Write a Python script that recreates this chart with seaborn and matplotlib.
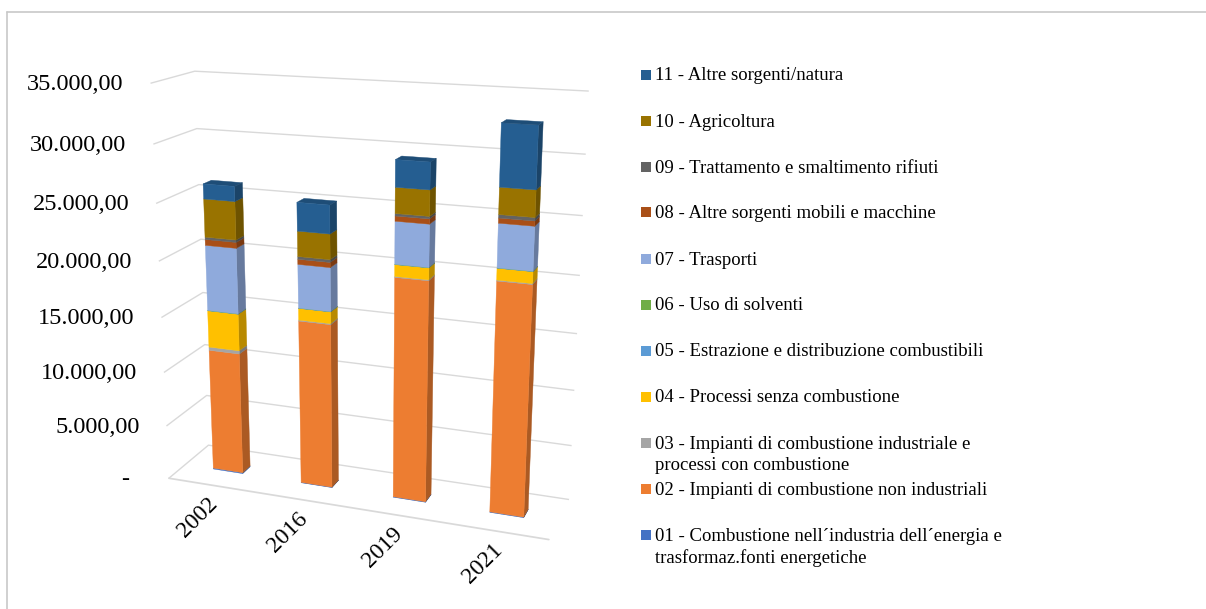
import numpy as np
import matplotlib
matplotlib.use("Agg")
import matplotlib.pyplot as plt
import matplotlib.colors as mcolors
import seaborn as sns
from matplotlib.ticker import NullFormatter
from matplotlib.patches import Rectangle
from mpl_toolkits.mplot3d import proj3d

# ---- data -------------------------------------------------------------
years = ["2002", "2016", "2019", "2021"]

sector_labels = [
    "01 - Combustione nell\u00b4industria dell\u00b4energia e\ntrasformaz.fonti energetiche",
    "02 - Impianti di combustione non industriali",
    "03 - Impianti di combustione industriale e\nprocessi con combustione",
    "04 - Processi senza combustione",
    "05 - Estrazione e distribuzione combustibili",
    "06 - Uso di solventi",
    "07 - Trasporti",
    "08 - Altre sorgenti mobili e macchine",
    "09 - Trattamento e smaltimento rifiuti",
    "10 - Agricoltura",
    "11 - Altre sorgenti/natura",
]

s01 = [90, 40, 50, 50]
s02 = [11250, 14950, 19650, 20200]
s03 = [300, 90, 80, 80]
s04 = [3340, 1040, 1010, 980]
s05 = [20, 15, 15, 15]
s06 = [10, 10, 10, 10]
s07 = [5850, 3840, 3610, 3650]
s08 = [520, 445, 435, 420]
s09 = [210, 240, 205, 280]
s10 = [3340, 2190, 2160, 2190]
s11 = [1300, 2450, 2250, 5050]

series = [s01, s02, s03, s04, s05, s06, s07, s08, s09, s10, s11]

sector_colors = sns.color_palette([
    "#4472C4", "#ED7D31", "#A5A5A5", "#FFC000", "#5B9BD5", "#70AD47",
    "#8FAADC", "#A94F17", "#636363", "#997300", "#255E91",
])

y_ticks = np.arange(0, 35001, 5000)

# ---- style ------------------------------------------------------------
sns.set_theme(style="white")
plt.rcParams["font.family"] = ["Liberation Serif", "DejaVu Serif"]

fig = plt.figure(figsize=(12.06, 6.09), dpi=100)
ax = fig.add_axes([0.0668, 0.0, 0.46, 1.0], projection="3d")

# ---- stacked 3-D columns --------------------------------------------
width = 0.34
depth = 0.2
y_front = 0.40
values = np.array(series, dtype=float)          # (sector, year)
bottoms = np.vstack([np.zeros(len(years)), np.cumsum(values, axis=0)[:-1]])
top_sector = len(series) - 1

clear = (1, 1, 1, 0)
xs, ys, zs, dxs, dys, dzs, face_cols = [], [], [], [], [], [], []
for k in range(len(series)):
    base = np.array(mcolors.to_rgb(sector_colors[k]))
    front = (*base, 1)
    side = (*(base * 0.72), 1)
    top = (*(base * 0.82), 1)
    for i in range(len(years)):
        xs.append(i - width / 2)
        ys.append(y_front)
        zs.append(bottoms[k, i])
        dxs.append(width)
        dys.append(depth)
        dzs.append(values[k, i])
        # face order of bar3d: -z, +z, -y, +y, -x, +x
        face_cols += [clear, top if k == top_sector else clear,
                      front, clear, clear, side]

ax.bar3d(xs, ys, zs, dxs, dys, dzs, color=face_cols, shade=False,
         edgecolor=face_cols, linewidth=0.3)

# ---- axes -----------------------------------------------------------
ax.set_xlim(-0.5, len(years) - 0.5)
ax.set_ylim(0, 1)
ax.set_zlim(0, 35000)
ax.set_box_aspect((3.92, 0.9, 4.0), zoom=1.04)
ax.view_init(elev=17, azim=-70)
ax.set_proj_type("persp", focal_length=0.45)

grid_col = "#D9D9D9"
for axis in (ax.xaxis, ax.yaxis, ax.zaxis):
    axis.set_pane_color(clear)
    axis.pane.set_edgecolor(clear)
    axis._axinfo["tick"]["inward_factor"] = 0
    axis._axinfo["tick"]["outward_factor"] = 0
ax.xaxis._axinfo["grid"]["color"] = clear
ax.yaxis._axinfo["grid"]["color"] = clear
ax.zaxis._axinfo["grid"]["color"] = grid_col
ax.zaxis._axinfo["grid"]["linewidth"] = 1.0
ax.xaxis.line.set_color(grid_col)
ax.yaxis.line.set_color(clear)
ax.zaxis.line.set_color(clear)
ax.grid(True)

ax.set_xticks(range(len(years)))
ax.set_yticks([])
ax.set_zticks(y_ticks)
ax.xaxis.set_major_formatter(NullFormatter())
ax.zaxis.set_major_formatter(NullFormatter())


def it_fmt(v):
    if v == 0:
        return "-  "
    s = f"{v:,.2f}"
    return s.replace(",", "X").replace(".", ",").replace("X", ".")


# ---- tick labels placed at the projected axis edges ------------------
fig.canvas.draw()
proj = ax.get_proj()
to_fig = fig.transFigure.inverted()


def edge_point(x, y, z, dx_px, dy_px):
    px, py, _ = proj3d.proj_transform(x, y, z, proj)
    dx, dy = ax.transData.transform((px, py))
    return to_fig.transform((dx + dx_px, dy + dy_px))


for v in y_ticks:
    fx, fy = edge_point(-0.5, 0.0, v, -27, -1)
    fig.text(fx, fy, it_fmt(v), fontsize=17.5, ha="right", va="center",
             color="#000000")

for i, yr in enumerate(years):
    fx, fy = edge_point(i, 0.0, 0.0, 2, -16)
    fig.text(fx, fy, yr, fontsize=17, rotation=45, rotation_mode="anchor",
             ha="right", va="center", color="#000000")

# ---- legend ---------------------------------------------------------
leg_x = 0.5315
leg_y0 = 1 - 74.5 / 609
leg_step = 46 / 609
for j, k in enumerate(range(len(series) - 1, -1, -1)):
    y = leg_y0 - j * leg_step
    fig.patches.append(Rectangle((leg_x, y - 5 / 609), 10 / 1206, 10 / 609,
                                 transform=fig.transFigure,
                                 facecolor=sector_colors[k], edgecolor="none"))
    fig.text(leg_x + 14 / 1206, y + 7 / 609, sector_labels[k], fontsize=13.5,
             va="top", ha="left", color="#000000", linespacing=1.33)

# outer frame
fig.add_artist(plt.Line2D([7 / 1206, 7 / 1206], [0, 1 - 12 / 609],
                          transform=fig.transFigure, color="#C8C8C8", lw=1.2))
fig.add_artist(plt.Line2D([7 / 1206, 1], [1 - 12 / 609, 1 - 12 / 609],
                          transform=fig.transFigure, color="#C8C8C8", lw=1.2))

fig.savefig("out.png", dpi=100, facecolor="white")
